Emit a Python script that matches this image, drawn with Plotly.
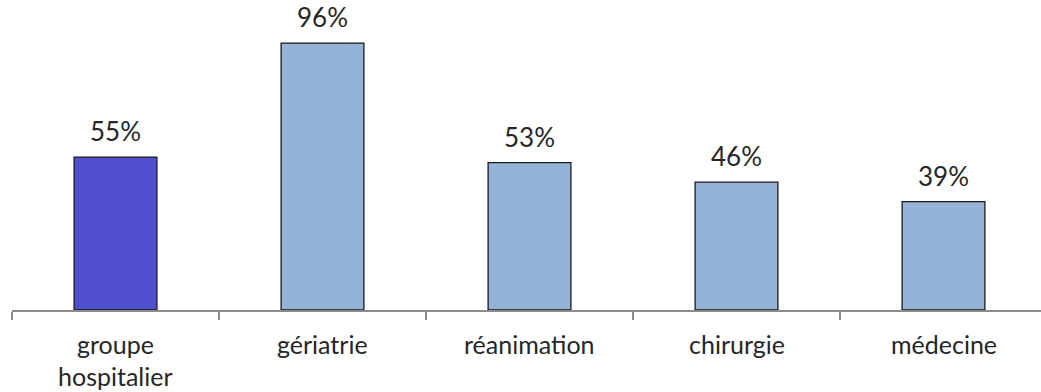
import plotly.graph_objects as go

categories = ["groupe hospitalier", "gériatrie", "réanimation", "chirurgie", "médecine"]
tick_labels = [["groupe", "hospitalier"], ["gériatrie"], ["réanimation"], ["chirurgie"], ["médecine"]]
values = [55, 96, 53, 46, 39]
bar_colors = ["#5151CF", "#95B3D7", "#95B3D7", "#95B3D7", "#95B3D7"]

font_family = "Lato, 'Open Sans', sans-serif"
text_color = "#262626"

fig = go.Figure(
    go.Bar(
        x=categories,
        y=values,
        width=0.4,
        marker=dict(color=bar_colors, line=dict(color="#1a1a1a", width=1.3)),
        hoverinfo="skip",
    )
)

# value labels above the bars
for cat, val in zip(categories, values):
    fig.add_annotation(
        x=cat, y=val, text=f"{val}%", showarrow=False,
        yanchor="bottom", yshift=8,
        font=dict(family=font_family, size=26, color=text_color),
    )

# category labels under the axis, one line per row with tight line spacing
for cat, lines in zip(categories, tick_labels):
    for i, line in enumerate(lines):
        fig.add_annotation(
            x=cat, xref="x", y=0, yref="paper", text=line, showarrow=False,
            yanchor="top", yshift=-17 - 32 * i,
            font=dict(family=font_family, size=25, color=text_color),
        )

fig.update_layout(
    width=1041, height=392,
    margin=dict(l=12, r=0, t=10, b=82),
    plot_bgcolor="white", paper_bgcolor="white",
    showlegend=False,
    bargap=0.6,
    font=dict(family=font_family, size=26, color=text_color),
)
fig.update_xaxes(
    type="category", range=[-0.5, 4.471], automargin=False,
    showline=True, linecolor="#8c8c8c", linewidth=1.5,
    ticks="outside", tickson="boundaries", ticklen=8, tickcolor="#8c8c8c", tickwidth=1.5,
    showticklabels=False, showgrid=False,
)
fig.update_yaxes(range=[0, 107.9], visible=False, showgrid=False, automargin=False)

fig.write_html("out.html")
